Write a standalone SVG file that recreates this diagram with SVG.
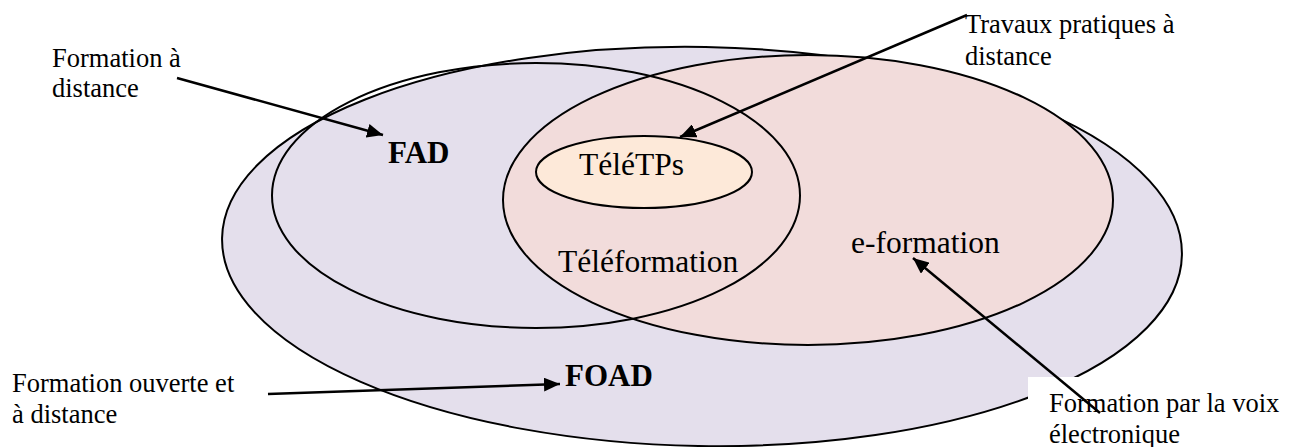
<svg xmlns="http://www.w3.org/2000/svg" width="1297" height="447" viewBox="0 0 1297 447">
<style>
.sh{stroke:#000;stroke-width:2}
.lbl{font-family:"Liberation Serif","Times New Roman",serif;font-size:26.5px;fill:#000}
.in{font-family:"Liberation Serif","Times New Roman",serif;font-size:31.5px;fill:#000}
.bd{font-family:"Liberation Serif","Times New Roman",serif;font-size:31px;font-weight:bold;fill:#000}
.cn{stroke:#000;stroke-width:2.5;fill:none;marker-end:url(#ah)}
</style>
<defs>
<marker id="ah" markerUnits="userSpaceOnUse" markerWidth="18" markerHeight="14" refX="16" refY="7" orient="auto">
<path d="M0,0 L16,7 L0,14 Z" fill="#000"/>
</marker>
</defs>
<rect width="1297" height="447" fill="#fff"/>
<g id="foad">
<ellipse class="sh" cx="702" cy="246.5" rx="480" ry="199.5" fill="#E4DFEC" transform="rotate(1 702 246.5)"/>
</g>
<g id="eformation">
<ellipse class="sh" cx="808" cy="200" rx="305" ry="145" fill="#F2DCDB"/>
</g>
<g id="fad">
<ellipse class="sh" cx="536" cy="195.5" rx="264" ry="132.5" fill="none"/>
</g>
<g id="teletps">
<ellipse class="sh" cx="644" cy="172" rx="108" ry="36" fill="#FDE9D9"/>
<text class="in" x="579" y="175">TéléTPs</text>
</g>
<text class="in" x="558" y="272">Téléformation</text>
<text class="in" x="851" y="253">e-formation</text>
<text class="bd" x="388" y="163">FAD</text>
<text class="bd" x="565" y="386">FOAD</text>
<rect x="1028" y="377" width="269" height="70" fill="#fff"/>
<g id="labels">
<text class="lbl" x="52" y="67">Formation à</text>
<text class="lbl" x="52" y="97">distance</text>
<text class="lbl" x="965" y="33">Travaux pratiques à</text>
<text class="lbl" x="965" y="65">distance</text>
<text class="lbl" x="12" y="392">Formation ouverte et</text>
<text class="lbl" x="12" y="423">à distance</text>
<text class="lbl" x="1049" y="412">Formation par la voix</text>
<text class="lbl" x="1049" y="443">électronique</text>
</g>
<g id="connectors">
<line class="cn" x1="177" y1="78" x2="383" y2="135"/>
<line class="cn" x1="967" y1="15" x2="680" y2="137"/>
<line class="cn" x1="268" y1="394" x2="560" y2="384"/>
<line class="cn" x1="1100" y1="413" x2="913" y2="258"/>
</g>
</svg>
